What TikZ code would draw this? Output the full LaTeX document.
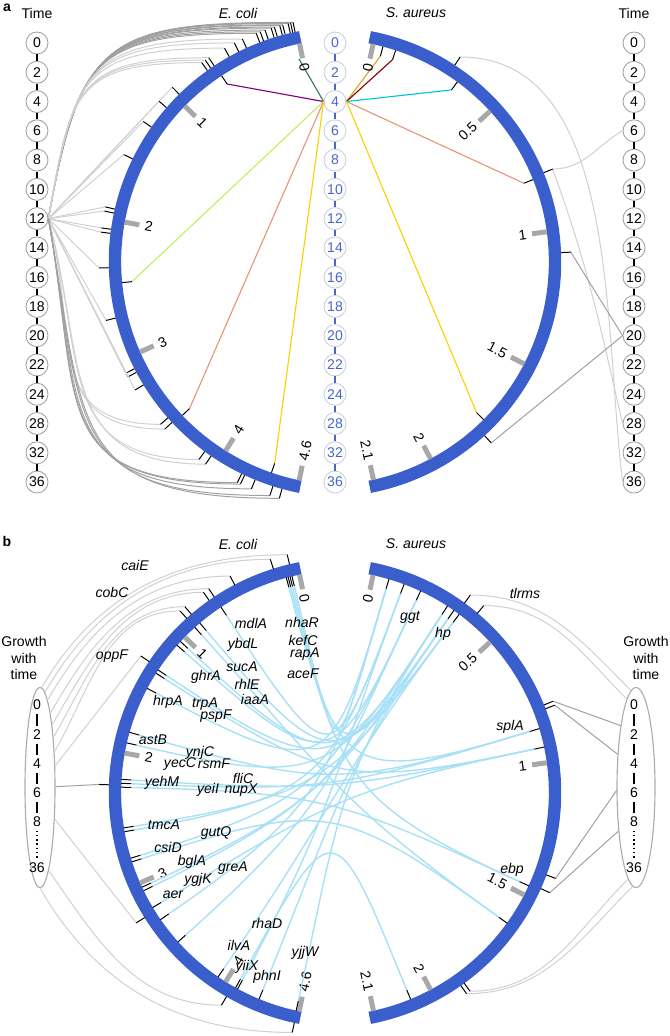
\documentclass[tikz,border=0pt]{standalone}
\usepackage{fontspec}
\setmainfont{Liberation Sans}
\usetikzlibrary{calc,shapes.geometric}

\definecolor{chrblue}{RGB}{58,94,204}
\definecolor{midblue}{RGB}{72,104,200}
\definecolor{midring}{RGB}{200,206,222}
\definecolor{linkblue}{RGB}{168,224,246}
\definecolor{bargray}{RGB}{168,168,168}
\definecolor{lnkdark}{RGB}{160,160,160}
\definecolor{lnklight}{RGB}{208,208,208}
\definecolor{cgreen}{RGB}{46,125,90}
\definecolor{cpurple}{RGB}{128,0,128}
\definecolor{clime}{RGB}{192,240,96}
\definecolor{csalmon}{RGB}{230,150,120}
\definecolor{cgold}{RGB}{250,210,0}
\definecolor{cgoldenrod}{RGB}{218,165,32}
\definecolor{cdarkred}{RGB}{139,0,0}
\definecolor{ccyan}{RGB}{0,200,210}

\tikzset{
  chrom/.style={draw=chrblue, line width=0.31cm},
  gtick/.style={draw=black, line width=0.7pt},
  scalebar/.style={draw=bargray, line width=0.125cm},
  scalelbl/.style={inner sep=1pt},
  tnode/.style={circle, draw=gray!75, line width=0.6pt, fill=white, minimum size=0.55cm, inner sep=0pt},
  mnode/.style={tnode, draw=midring, text=midblue},
  tbar/.style={draw=black, line width=1.5pt},
  mbar/.style={draw=midblue, line width=1.5pt},
  darklink/.style={draw=lnkdark, line width=0.7pt},
  lightlink/.style={draw=lnklight, line width=0.7pt},
  hit/.style={line width=0.8pt},
  chord/.style={draw=linkblue, line width=1pt},
  gene/.style={font=\itshape, inner sep=1pt},
  growth/.style={ellipse, draw=gray!65, line width=0.8pt, inner sep=0pt},
  gnum/.style={inner sep=2.5pt},
  gbar/.style={draw=black, line width=2pt},
}

\begin{document}
\begin{tikzpicture}[x=0.025cm, y=0.025cm]
\useasboundingbox (0,0) rectangle (669,-1036);
\coordinate (ecA) at (344,-262);
\coordinate (saA) at (326,-262);
\coordinate (ecB) at (344,-793);
\coordinate (saB) at (326,-793);

\node[font=\bfseries] at (7,-8) {a};
\node at (37,-13) {Time};
\node at (634,-13) {Time};
\node[font=\itshape] at (238,-13) {E. coli};
\node[font=\itshape] at (416,-13) {S. aureus};

\foreach \t [count=\i from 0] in {0,2,4,6,8,10,12,14,16,18,20,22,24,28,32,36} {
  \node[tnode] (L\t) at (37,{-43-29.27*\i}) {\t};
  \node[tnode] (R\t) at (634,{-43-29.27*\i}) {\t};
  \node[mnode] (M\t) at (335,{-43-29.27*\i}) {\t};
}
\foreach \p/\q in {0/2,2/4,4/6,6/8,8/10,10/12,12/14,14/16,16/18,18/20,20/22,22/24,24/28,28/32,32/36} {
  \draw[tbar] (L\p) -- (L\q);
  \draw[tbar] (R\p) -- (R\q);
  \draw[mbar] (M\p) -- (M\q);
}

\foreach \a in {102,102.6,103.2,104.5,105.2,106.5,107.3,108.8,110,111} {
  \coordinate (g) at ($(ecA)+(\a:245)$);
  \draw[darklink] (L12.east) to[out=80,in=180,looseness=1.5] (g);
  \draw[gtick] ($(ecA)+(\a:235)$) -- (g);
}
\foreach \a in {114.5,116.6,119.2,123.5,124.5,125.5} {
  \coordinate (g) at ($(ecA)+(\a:245)$);
  \draw[lightlink] (L12.east) to[out=80,in=180,looseness=1.5] (g);
  \draw[gtick] ($(ecA)+(\a:235)$) -- (g);
}
\foreach \a in {134.5,139,145,154,167,168,172,173,181.4,193.8,207,208,211.5} {
  \coordinate (g) at ($(ecA)+(\a:245)$);
  \draw[lightlink] (L12.east) -- (g);
  \draw[gtick] ($(ecA)+(\a:235)$) -- (g);
}
\foreach \a in {221.5,223,233.7,235.6} {
  \coordinate (g) at ($(ecA)+(\a:245)$);
  \draw[lightlink] (L12.east) to[out=-75,in=180,looseness=1.3] (g);
  \draw[gtick] ($(ecA)+(\a:235)$) -- (g);
}
\foreach \a in {244.2,245,247.8,252.4,254.7} {
  \coordinate (g) at ($(ecA)+(\a:245)$);
  \draw[darklink] (L12.east) to[out=-80,in=180,looseness=1.5] (g);
  \draw[gtick] ($(ecA)+(\a:235)$) -- (g);
}

\coordinate (s1) at ($(saA)+(56.8:245)$);
\coordinate (s2) at ($(saA)+(22.3:245)$);
\coordinate (s3) at ($(saA)+(2.3:245)$);
\coordinate (s4) at ($(saA)+(-47.6:245)$);
\draw[lightlink] (s1) to[out=0,in=97,looseness=0.9] (R36.west);
\draw[lightlink] (s2) to[out=0,in=210] (R6.west);
\draw[lightlink] (s2) to[out=-70,in=103] (R28.west);
\draw[darklink] (s3) -- (R20.west);
\draw[darklink] (s4) -- (R20.west);
\foreach \a in {56.8,22.3,2.3,-47.6}
  \draw[gtick] ($(saA)+(\a:235)$) -- ($(saA)+(\a:245)$);

\draw[cgreen, hit] (M4.west) -- ($(ecA)+(102.5:208)$);
\foreach \a/\c in {123.3/cpurple,185.3/clime,223.5/csalmon,251/cgold} {
  \coordinate (h) at ($(ecA)+(\a:213)$);
  \draw[\c, hit] (M4.west) -- (h);
  \draw[gtick] (h) -- ($(ecA)+(\a:223)$);
}
\foreach \a/\c in {75.2/cgoldenrod,71.8/cdarkred,53.9/ccyan,21.7/csalmon,-45/cgold} {
  \coordinate (h) at ($(saA)+(\a:213)$);
  \draw[\c, hit] (M4.east) -- (h);
  \draw[gtick] (h) -- ($(saA)+(\a:223)$);
}

\draw[chrom] ($(ecA)+(101:229)$) arc[start angle=101, end angle=259, radius=229];
\draw[chrom] ($(saA)+(79:229)$) arc[start angle=79, end angle=-79, radius=229];
\draw[chrom] ($(ecB)+(101:229)$) arc[start angle=101, end angle=259, radius=229];
\draw[chrom] ($(saB)+(79:229)$) arc[start angle=79, end angle=-79, radius=229];

\foreach \c in {ecA,ecB} {
  \foreach \a/\l in {101.5/0,135.6/1,169.7/2,203.8/3,237.9/4,258.4/4.6} {
    \draw[scalebar] ($(\c)+(\a:223)$) -- ($(\c)+(\a:208)$);
    \node[scalelbl, anchor=west, rotate=\a-180] at ($(\c)+(\a:204)$) {\l};
  }
}
\foreach \c in {saA,saB} {
  \foreach \a/\l in {77.8/0,42.6/0.5,7.8/1,-27.2/1.5,-62/2,-77.7/2.1} {
    \draw[scalebar] ($(\c)+(\a:223)$) -- ($(\c)+(\a:208)$);
    \node[scalelbl, anchor=east, rotate=\a] at ($(\c)+(\a:204)$) {\l};
  }
}

\node[font=\bfseries] at (7,-541) {b};
\node[font=\itshape] at (238,-544) {E. coli};
\node[font=\itshape] at (416,-544) {S. aureus};

\node[align=center] at (24,-658) {Growth\\with\\time};
\node[align=center] at (646,-658) {Growth\\with\\time};
\node[growth, minimum width=0.75cm, minimum height=5cm] (grL) at (40,-787.5) {};
\node[growth, minimum width=0.95cm, minimum height=5cm] (grR) at (636,-787.5) {};
\foreach \s/\x in {gl/37,gr/634} {
  \node[gnum] (\s0) at (\x,-705) {0};
  \node[gnum] (\s2) at (\x,-735) {2};
  \node[gnum] (\s4) at (\x,-764) {4};
  \node[gnum] (\s6) at (\x,-793) {6};
  \node[gnum] (\s8) at (\x,-822) {8};
  \node[gnum] (\s36) at (\x,-868) {36};
  \draw[gbar] (\s0) -- (\s2);
  \draw[gbar] (\s2) -- (\s4);
  \draw[gbar] (\s4) -- (\s6);
  \draw[gbar] (\s6) -- (\s8);
  \draw[dotted, line width=1pt] (\s8) -- (\s36);
}

\foreach \a/\e in {103.4/89,107.5/87,117.7/85,123.5/82,125/79,130.5/75,132/68} {
  \coordinate (g) at ($(ecB)+(\a:245)$);
  \draw[lightlink] (grL.\e) to[out=60,in=180] (g);
  \draw[gtick] ($(ecB)+(\a:235)$) -- (g);
}
\coordinate (g1) at ($(ecB)+(146:245)$);
\coordinate (g2) at ($(ecB)+(178:245)$);
\coordinate (g3) at ($(ecB)+(212:245)$);
\coordinate (g4) at ($(ecB)+(240:245)$);
\coordinate (g5) at ($(ecB)+(257.8:245)$);
\draw[lightlink] (grL.55) -- (g1);
\draw[darklink] (grL.3) -- (g2);
\draw[lightlink] (grL.-65) -- (g3);
\draw[lightlink] (grL.-84) to[out=-55,in=180] (g4);
\draw[lightlink] (grL.-90) to[out=-60,in=180] (g5);
\foreach \a in {146,178,212,240,257.8}
  \draw[gtick] ($(ecB)+(\a:235)$) -- ($(ecB)+(\a:245)$);

\coordinate (k1) at ($(saB)+(53.9:245)$);
\coordinate (k2) at ($(saB)+(49.9:245)$);
\coordinate (k3) at ($(saB)+(22:245)$);
\coordinate (k4) at ($(saB)+(21:245)$);
\coordinate (k5) at ($(saB)+(-20.4:245)$);
\coordinate (k6) at ($(saB)+(-24:245)$);
\coordinate (k7) at ($(saB)+(-54:245)$);
\coordinate (k8) at ($(saB)+(-55:245)$);
\draw[lightlink] (k1) to[out=0,in=135] (grR.93);
\draw[lightlink] (k2) to[out=0,in=135] (grR.96);
\draw[darklink] (k3) -- (grR.104);
\draw[darklink] (k4) -- (grR.119);
\draw[darklink] (k5) -- (grR.189);
\draw[darklink] (k6) -- (grR.248);
\draw[lightlink] (k7) to[out=0,in=225] (grR.265);
\draw[lightlink] (k8) to[out=0,in=225] (grR.268);
\foreach \a in {53.9,49.9,22,21,-20.4,-24,-54,-55}
  \draw[gtick] ($(saB)+(\a:235)$) -- ($(saB)+(\a:245)$);

\foreach \a/\b in {103.5/73.6,104/55,104.5/-24.6,105/16.8,123.5/69.5,130.3/53.3,132/-35.7,137.2/57,138.5/64.9,146.5/55,147.5/11.9,152/73.6,164.2/16.8,167/57,176.5/11.9,177.5/16.8,178.5/-24.6,189/53.3,190/69.5,197/64.9,198/-35.7,205/55,206/57,210.9/11.9,214.6/73.6,221.9/64.9,235.6/53.3,240.9/-67.7,241.5/69.5,247.6/55,257.6/57} {
  \coordinate (p) at ($(ecB)+(\a:213)$);
  \coordinate (q) at ($(saB)+(\b:213)$);
  \draw[chord] (p) .. controls ($(ecB)+(\a:18)$) and ($(saB)+(\b:18)$) .. (q);
  \draw[gtick] (p) -- ($(ecB)+(\a:223)$);
}
\foreach \b in {73.6,69.5,64.9,57,55,53.3,16.8,11.9,-24.6,-35.7,-67.7}
  \draw[gtick] ($(saB)+(\b:213)$) -- ($(saB)+(\b:223)$);

\foreach \n/\x/\y in {caiE/135/565,cobC/112/592,oppF/112/656,mdlA/251/623,nhaR/302/622,kefC/303/640,rapA/305/654,aceF/303/674,ybdL/243/645,sucA/242/667,ghrA/206/677,rhlE/247/684,iaaA/255/699,hrpA/168/702,trpA/205/704,pspF/216/716,astB/153/740,ynjC/200/753,yecC/180/764,rsmF/214/764,yehM/162/783,fliC/243/778,yeiI/208/790,nupX/241/790,tmcA/164/825,gutQ/216/833,csiD/168/847,bglA/192/862,greA/233/868,ygjK/198/880,aer/173/895,rhaD/267/923,ilvA/239/945,yiiX/247/967,phnI/267/977,yjjW/305/953,ggt/410/617,hp/443/634,tlrms/525/593,splA/510/727,ebp/512/870}
  \node[gene] at (\x,-\y) {\n};
\end{tikzpicture}
\end{document}
